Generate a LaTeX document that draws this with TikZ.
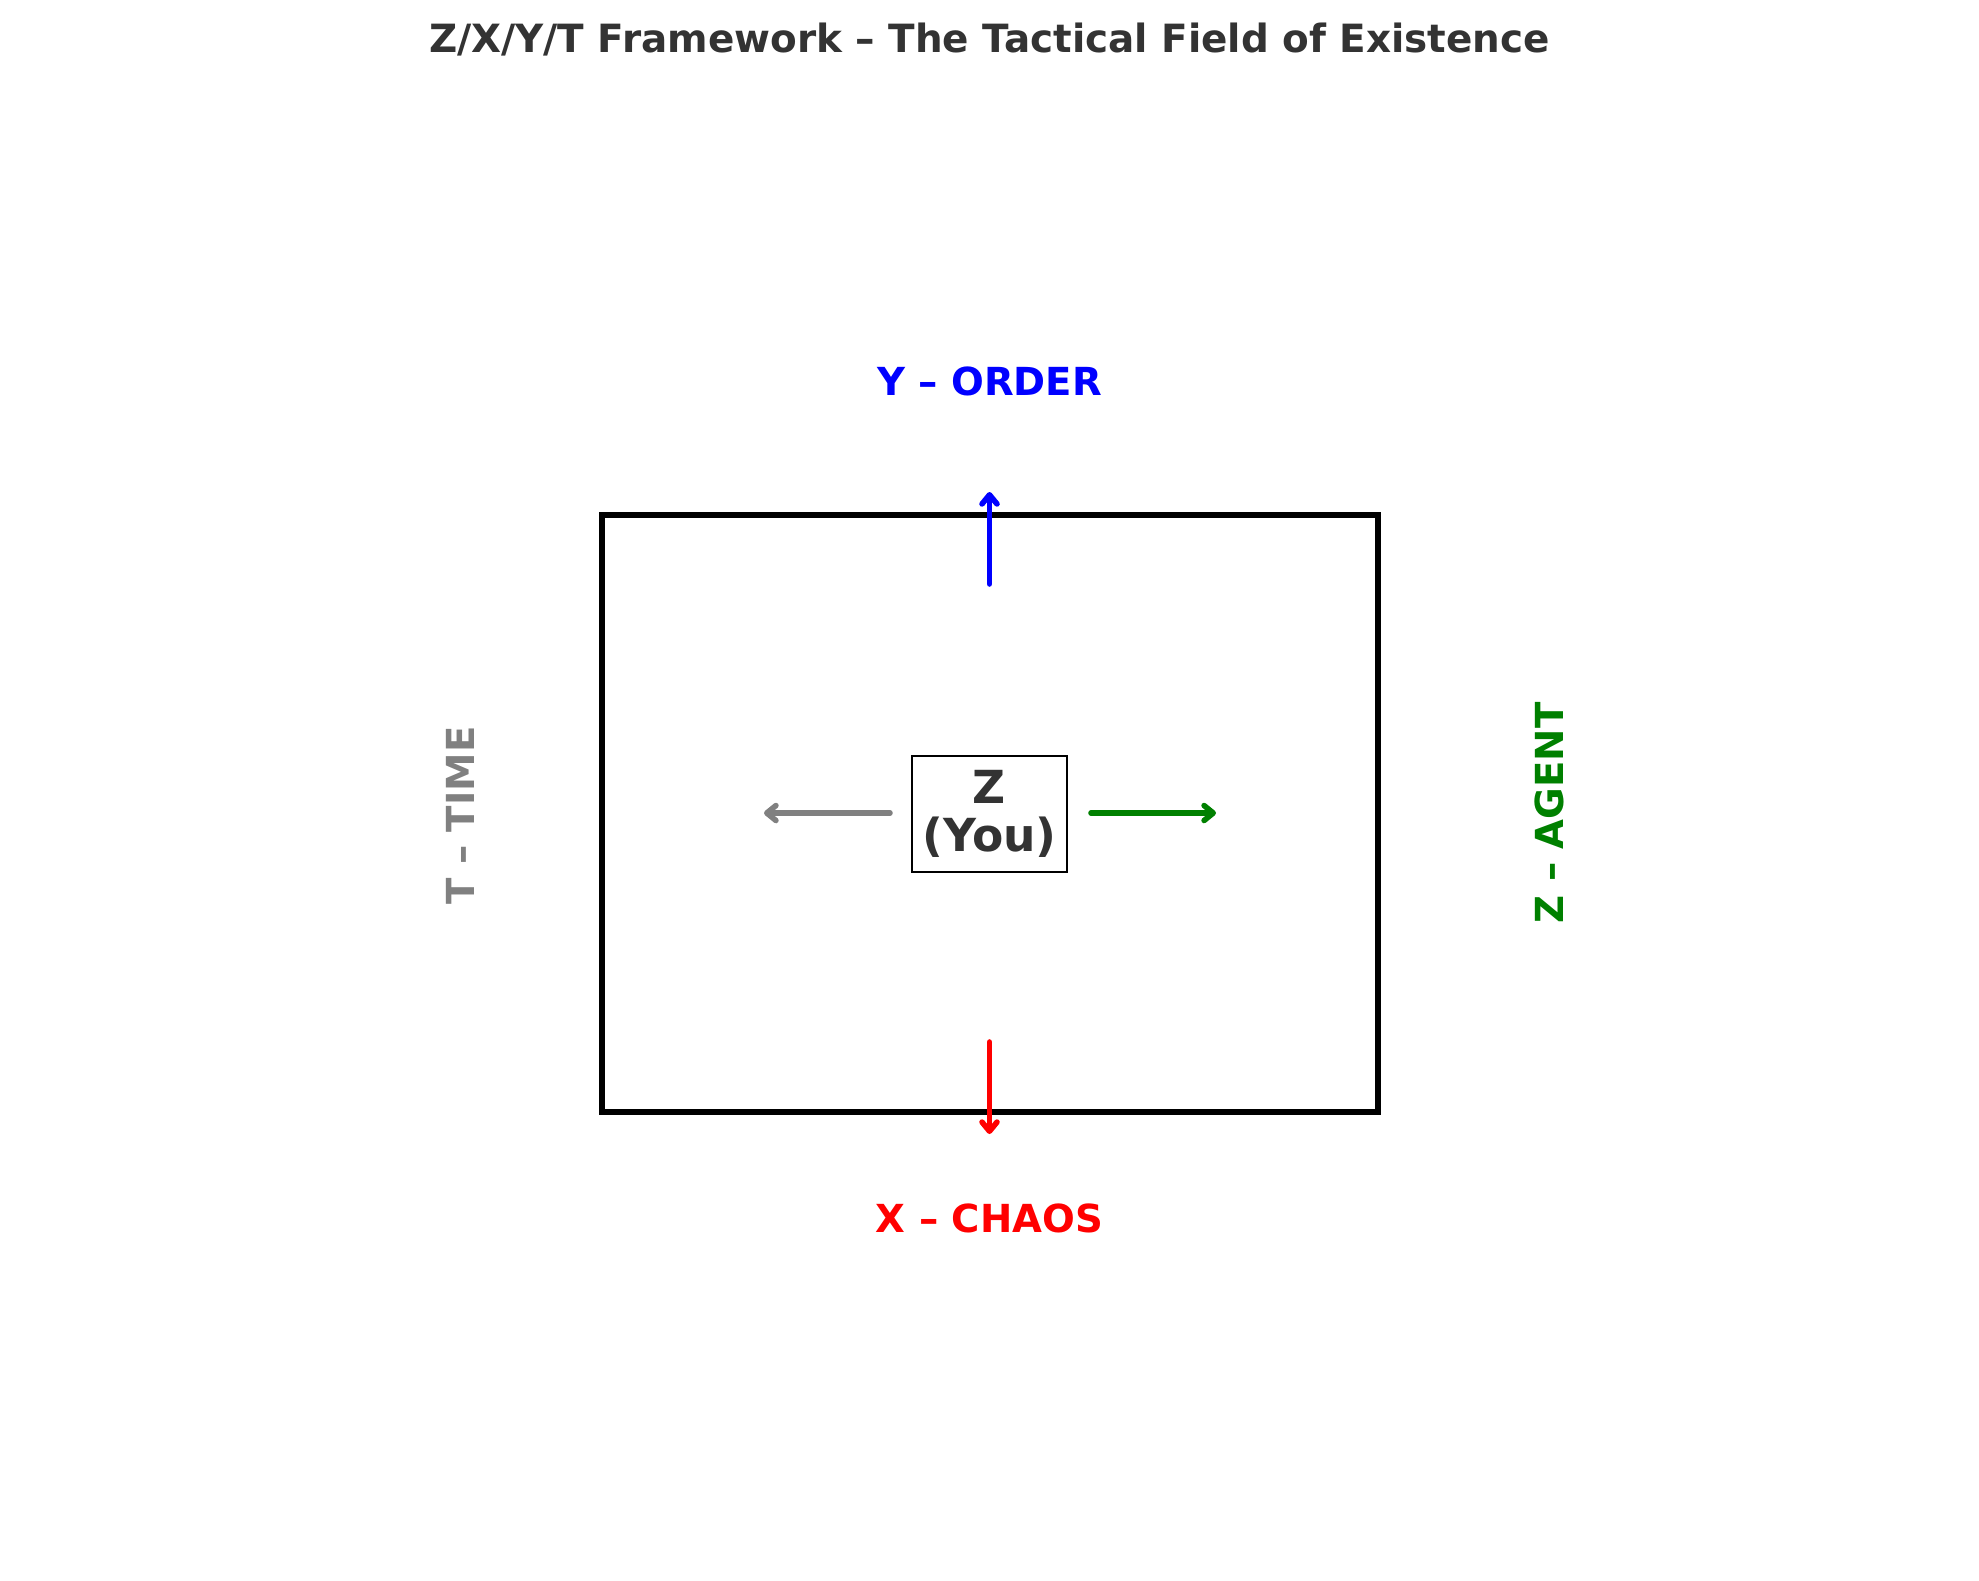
\documentclass[tikz,border=0pt]{standalone}
\usepackage{fontspec}
\setmainfont{DejaVu Sans}
\usetikzlibrary{arrows.meta}
\definecolor{titlegray}{HTML}{333333}
\definecolor{timegray}{HTML}{808080}
\definecolor{agentgreen}{HTML}{008000}
\definecolor{orderblue}{HTML}{0000FF}
\definecolor{chaosred}{HTML}{FF0000}
\tikzset{
  lbl/.style={font=\fontsize{13.9pt}{16pt}\selectfont\bfseries, inner sep=0pt, anchor=base},
  dirarrow/.style={line width=2pt, line cap=round, line join=round,
    -{Straight Barb[length=3.3pt,width=5.4pt,line cap=round,line join=round]}},
}
\begin{document}
\begin{tikzpicture}[x=0.36pt,y=-0.36pt]
\useasboundingbox (0,0) rectangle (1979,1580);
% title
\node[lbl, text=titlegray, font=\fontsize{14pt}{17pt}\selectfont\bfseries] (title) at (989.5,52) {Z/X/Y/T Framework – The Tactical Field of Existence};
% field
\draw[line width=2.16pt] (602,515) rectangle (1378,1112);
% center box
\node[draw, line width=0.9pt, text=titlegray, align=center, minimum width=155*0.36pt, minimum height=116*0.36pt, inner sep=0pt,
  font=\fontsize{16.4pt}{17.28pt}\selectfont\bfseries] (z) at (989.5,814) {Z\\(You)};
% labels
\node[lbl, text=orderblue] (order) at (989.5,395) {Y – ORDER};
\node[lbl, text=chaosred] (chaos) at (989.5,1232) {X – CHAOS};
\node[lbl, text=timegray, rotate=90] (time) at (474,815.5) {T – TIME};
\node[lbl, text=agentgreen, rotate=90] (agent) at (1563,813) {Z – AGENT};
% arrow coordinates
\coordinate (upS) at (989.5,584);
\coordinate (upT) at (989.5,492);
\coordinate (dnS) at (989.5,1042);
\coordinate (dnT) at (989.5,1134);
\coordinate (lfS) at (890,813);
\coordinate (lfT) at (764,813);
\coordinate (rtS) at (1091,813);
\coordinate (rtT) at (1216,813);
\draw[dirarrow, orderblue] (upS) -- (upT);
\draw[dirarrow, chaosred] (dnS) -- (dnT);
\draw[dirarrow, timegray] (lfS) -- (lfT);
\draw[dirarrow, agentgreen] (rtS) -- (rtT);
\end{tikzpicture}
\end{document}
